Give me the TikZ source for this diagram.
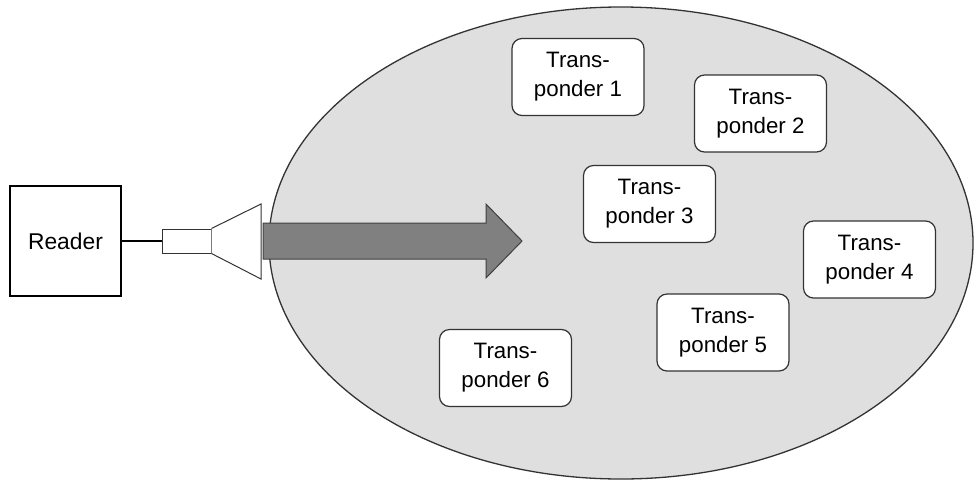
\documentclass[tikz,border=0pt]{standalone}
\usepackage{fontspec}
\setmainfont{Liberation Sans}
\begin{document}
\begin{tikzpicture}[x=1pt,y=-1pt,
  tbox/.style={draw=black!80, line width=1.2pt, fill=white, rounded corners=10pt,
    minimum width=132pt, minimum height=77pt, align=center, inner sep=0pt,
    font=\fontsize{22.3}{29}\selectfont},
  readerbox/.style={draw=black, line width=1.5pt, fill=white, minimum width=111pt,
    minimum height=110pt, inner sep=0pt, font=\fontsize{22.8}{26}\selectfont},
  antbox/.style={draw=black!80, line width=1pt, fill=white, minimum width=49pt,
    minimum height=24pt, inner sep=0pt}]
\useasboundingbox (0,0) rectangle (974,480);
% field
\draw[fill=black!12.5, draw=black!80, line width=1.3pt] (621,243) ellipse [x radius=352, y radius=236];
% reader
\node[readerbox] (reader) at (65.5,241) {Reader};
% antenna
\node[antbox] (ant) at (186.5,241) {};
\draw[draw=black!80, line width=1pt, fill=white] (ant.north east) -- (261,204) -- (261,279) -- (ant.south east);
\draw[line width=1.3pt] (reader.east) -- (ant.west);
% arrow
\draw[fill=black!50, draw=black!75, line width=1pt]
  (263,223) -- (486,223) -- (486,204) -- (522,241) -- (486,278) -- (486,259) -- (263,259) -- cycle;
% transponders
\node[tbox] (t1) at (578,77) {Trans-\\ponder 1};
\node[tbox] (t2) at (760.5,113.5) {Trans-\\ponder 2};
\node[tbox] (t3) at (649.5,204) {Trans-\\ponder 3};
\node[tbox] (t4) at (869.5,259.5) {Trans-\\ponder 4};
\node[tbox] (t5) at (723,332.5) {Trans-\\ponder 5};
\node[tbox] (t6) at (505.5,368) {Trans-\\ponder 6};
\end{tikzpicture}
\end{document}
